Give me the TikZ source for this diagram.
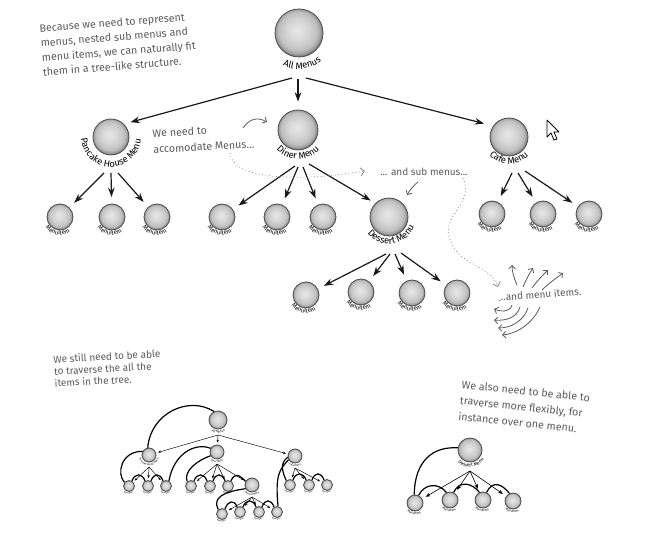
\documentclass[tikz,border=0pt]{standalone}
\usepackage{fontspec}
\setmainfont{Fira Sans}
\usetikzlibrary{arrows.meta,decorations.text,calc}
\definecolor{notegray}{HTML}{5A5A5A}
\definecolor{dotgray}{HTML}{8A8A8A}
\pgfdeclareradialshading{ballshade}{\pgfpoint{-2bp}{3bp}}{color(0bp)=(black!9); color(12bp)=(black!17); color(20bp)=(black!25); color(23.5bp)=(black!38); color(25bp)=(black!50); color(50bp)=(black!50)}
\tikzset{
 ballnode/.style={circle, inner sep=0pt, draw=black!70, line width=0.6pt, shading=ballshade},
 arr/.style={-{Stealth[length=7pt,width=5pt]}, line width=0.9pt, black!90},
 kidarr/.style={arr, shorten >=5pt},
 thinarr/.style={-{Stealth[length=2.2pt,width=1.8pt]}, line width=0.35pt, shorten >=1.5pt},
 thinarrB/.style={-{Stealth[length=3.5pt,width=2.8pt]}, line width=0.45pt, shorten >=3pt},
 trav/.style={line width=0.9pt, black},
 note/.style={text=notegray, align=left, inner sep=0pt, anchor=north west},
 hand/.style={draw=notegray, line width=0.6pt, -{Straight Barb[length=2.5pt,width=5pt]}},
 dots/.style={draw=dotgray, line width=0.6pt, dotted, -{Straight Barb[length=3pt,width=6pt]}},
}
\newcommand\ball[4]{\node[ballnode, minimum size={#4*1.5pt}] (#1) at (#2,#3) {};}
\newcommand\arclabel[6]{\path[decorate,decoration={text along path,text align=center,text={|\fontsize{#5}{#5}\selectfont|#6}}] (#1,#2) ++({#4+120}:#3) arc[start angle={#4+120},end angle={#4-120},radius=#3];}
\begin{document}
\begin{tikzpicture}[x=0.75pt,y=-0.75pt]
\useasboundingbox (0,0) rectangle (648,534);
% ---------------- main tree ----------------
\ball{all}{299}{33}{24}
\ball{pan}{111}{137}{18}
\ball{din}{298}{130}{20}
\ball{caf}{509}{137}{19}
\ball{des}{389}{217}{19}
\ball{pa}{60}{217}{13}
\ball{pb}{112}{217}{13}
\ball{pc}{157}{217}{13}
\ball{da}{222}{217}{13}
\ball{db}{277}{217}{13}
\ball{dc}{323}{217}{13}
\ball{ca}{492}{214}{13}
\ball{cb}{543}{214}{13}
\ball{cc}{589}{214}{13}
\ball{ea}{306}{295}{13}
\ball{eb}{361}{292}{13}
\ball{ec}{412}{293}{13}
\ball{ed}{457}{293}{13}
\arclabel{299}{33}{36}{84}{7}{All Menus}
\arclabel{111}{137}{30}{91}{7}{Pancake House Menu}
\arclabel{298}{130}{29}{90}{7}{Diner Menu}
\arclabel{509}{137}{27}{90}{7}{Cafe Menu}
\arclabel{389}{217}{27}{82}{7}{Dessert Menu}
\foreach \x/\y in {60/217,112/217,157/217,222/217,277/217,323/217,492/214,543/214,589/214,306/295,361/292,412/293,457/293}{
  \arclabel{\x}{\y}{18}{100}{4.5}{MenuItem}}
\coordinate (allL1) at (292,78); \coordinate (allL2) at (298,79); \coordinate (allL3) at (306,78);
\coordinate (panL1) at (104,173); \coordinate (panL2) at (111,173); \coordinate (panL3) at (118,173);
\coordinate (dinL1) at (295,166); \coordinate (dinL2) at (298,167); \coordinate (dinL3) at (303,167); \coordinate (dinL4) at (309,164);
\coordinate (cafL1) at (512,173); \coordinate (cafL2) at (518,173); \coordinate (cafL3) at (525,171);
\coordinate (desL1) at (386,254); \coordinate (desL2) at (390,254); \coordinate (desL3) at (395,254); \coordinate (desL4) at (401,253);
\draw[arr, shorten >=5pt] (allL1) -- (pan.45);
\draw[arr, shorten >=6pt] (allL2) -- (din);
\draw[arr, shorten >=7pt] (allL3) -- (caf.145);
\draw[kidarr] (panL1) -- (pa); \draw[kidarr] (panL2) -- (pb); \draw[kidarr] (panL3) -- (pc);
\draw[kidarr] (dinL1) -- (da); \draw[kidarr] (dinL2) -- (db); \draw[kidarr] (dinL3) -- (dc);
\draw[arr, shorten >=4pt] (dinL4) -- (des.135);
\draw[kidarr] (cafL1) -- (ca); \draw[kidarr] (cafL2) -- (cb); \draw[kidarr] (cafL3) -- (cc);
\draw[kidarr] (desL1) -- (ea); \draw[kidarr] (desL2) -- (eb); \draw[kidarr] (desL3) -- (ec); \draw[kidarr] (desL4) -- (ed);
% cursor
\filldraw[fill=white, draw=black, line width=0.6pt, line join=round] (547,120) -- (547,137) -- (551,133) -- (554,140) -- (557,139) -- (554,132) -- (559,132) -- cycle;
% ---------------- annotations ----------------
\node[note, rotate=4.5, font=\fontsize{8}{11}\selectfont] (n1) at (39,24) {Because we need to represent\\menus, nested sub menus and\\menu items, we can naturally fit\\them in a tree-like structure.};
\node[note, rotate=3, font=\fontsize{8}{12}\selectfont] (n2) at (152,129) {We need to\\accomodate Menus...};
\node[note, font=\fontsize{7.5}{9}\selectfont] (n3) at (380,168) {... and sub menus...};
\node[note, rotate=4, font=\fontsize{7.5}{9}\selectfont] (n4) at (498,293) {...and menu items.};
\node[note, rotate=3, font=\fontsize{7.5}{9}\selectfont] (n5) at (53,355) {We still need to be able\\to traverse the all the\\items in the tree.};
\node[note, rotate=-6, font=\fontsize{8}{12}\selectfont] (n6) at (462,380) {We also need to be able to\\traverse more flexibly, for\\instance over one menu.};
\coordinate (h1a) at (243,128); \coordinate (h1b) at (267,122);
\draw[hand] (h1a) .. controls (250,118) and (258,117) .. (h1b);
\coordinate (h2a) at (418,182); \coordinate (h2b) at (407,195);
\draw[hand] (h2a) .. controls (413,186) and (410,190) .. (h2b);
\coordinate (dA) at (230,153); \coordinate (dB) at (365,171);
\draw[dots] (dA) .. controls (232,180) and (300,182) .. (dB);
\coordinate (dC) at (463,178); \coordinate (dD) at (450,240); \coordinate (dE) at (498,287);
\draw[dots] (dC) .. controls (475,205) and (440,215) .. (dD) .. controls (458,265) and (490,265) .. (dE);
\coordinate (u1a) at (517,285); \coordinate (u1b) at (512,265);
\coordinate (u2a) at (523,287); \coordinate (u2b) at (533,268);
\coordinate (u3a) at (532,288); \coordinate (u3b) at (548,270);
\coordinate (u4a) at (542,290); \coordinate (u4b) at (563,273);
\draw[hand] (u1a) .. controls (514,278) and (512,272) .. (u1b);
\draw[hand] (u2a) .. controls (526,280) and (529,274) .. (u2b);
\draw[hand] (u3a) .. controls (537,281) and (542,276) .. (u3b);
\draw[hand] (u4a) .. controls (548,284) and (555,279) .. (u4b);
\coordinate (l1a) at (512,305); \coordinate (l1b) at (494,309);
\coordinate (l2a) at (520,307); \coordinate (l2b) at (494,320);
\coordinate (l3a) at (528,308); \coordinate (l3b) at (498,328);
\coordinate (l4a) at (540,307); \coordinate (l4b) at (502,335);
\draw[hand] (l1a) .. controls (510,312) and (502,312) .. (l1b);
\draw[hand] (l2a) .. controls (517,318) and (505,321) .. (l2b);
\draw[hand] (l3a) .. controls (523,322) and (510,328) .. (l3b);
\draw[hand] (l4a) .. controls (532,325) and (515,334) .. (l4b);
% ---------------- lower left tree ----------------
\ball{r1}{218}{420}{9}
\ball{p1}{149}{455}{7}
\ball{d1}{217}{452}{7}
\ball{c1}{295}{456}{7}
\ball{qa}{129}{486}{5.5}
\ball{qb}{148}{486}{5.5}
\ball{qc}{166}{486}{5.5}
\ball{ga}{191}{486}{5.5}
\ball{gb}{210}{486}{5.5}
\ball{gc}{228}{486}{5.5}
\ball{dd}{252}{485}{7}
\ball{ka}{222}{514}{5.5}
\ball{kb}{240}{512}{5.5}
\ball{kc}{259}{512}{5.5}
\ball{kd}{277}{512}{5.5}
\ball{wa}{290}{485}{5.5}
\ball{wb}{309}{485}{5.5}
\ball{wc}{327}{485}{5.5}
\arclabel{218}{420}{13}{88}{2.4}{All Menus}
\arclabel{149}{455}{10.5}{90}{2}{Pancake House Menu}
\arclabel{217}{452}{10.5}{90}{2}{Diner Menu}
\arclabel{295}{456}{10.5}{90}{2}{Cafe Menu}
\arclabel{252}{485}{10.5}{90}{2}{Dessert Menu}
\foreach \x/\y in {129/486,148/486,166/486,191/486,210/486,228/486,222/514,240/512,259/512,277/512,290/485,309/485,327/485}{
  \arclabel{\x}{\y}{8}{95}{1.6}{MenuItem}}
\coordinate (r1L) at (218,435); \coordinate (p1L) at (149,467); \coordinate (d1L) at (217,464);
\coordinate (ddL) at (252,497); \coordinate (c1L) at (295,468);
\draw[thinarr] (r1L) -- (p1); \draw[thinarr] (r1L) -- (d1); \draw[thinarr] (r1L) -- (c1);
\foreach \k in {qa,qb,qc}{\draw[thinarr] (p1L) -- (\k);}
\foreach \k in {ga,gb,gc,dd}{\draw[thinarr] (d1L) -- (\k);}
\foreach \k in {ka,kb,kc,kd}{\draw[thinarr] (ddL) -- (\k);}
\foreach \k in {wa,wb,wc}{\draw[thinarr] (c1L) -- (\k);}
\draw[trav] (r1.115) .. controls +(-25,-16) and +(3,-35) .. (p1.100);
\draw[trav] (p1.150) .. controls +(-22,0) and +(-8,-8) .. (qa.140);
\draw[trav] (qa.60) .. controls +(3,-8) and +(-3,-8) .. (qb.120);
\draw[trav] (qb.60) .. controls +(3,-8) and +(-3,-8) .. (qc.120);
\draw[trav] (qc.60) .. controls +(5,-28) and +(-15,-6) .. (d1.150);
\draw[trav] (d1.210) .. controls +(-14,5) and +(-4,-10) .. (ga.130);
\draw[trav] (ga.60) .. controls +(3,-8) and +(-3,-8) .. (gb.120);
\draw[trav] (gb.60) .. controls +(3,-8) and +(-3,-8) .. (gc.120);
\draw[trav] (gc.60) .. controls +(4,-9) and +(-6,-6) .. (dd.150);
\draw[trav] (dd.210) .. controls +(-22,3) and +(-6,-12) .. (ka.130);
\draw[trav] (ka.60) .. controls +(3,-8) and +(-3,-8) .. (kb.120);
\draw[trav] (kb.60) .. controls +(3,-8) and +(-3,-8) .. (kc.120);
\draw[trav] (kc.60) .. controls +(3,-8) and +(-3,-8) .. (kd.120);
\draw[trav] (kd.80) .. controls +(-3,-32) and +(-9,10) .. (c1.210);
\draw[trav] (c1.190) .. controls +(-8,6) and +(-4,-9) .. (wa.130);
\draw[trav] (wa.60) .. controls +(3,-8) and +(-3,-8) .. (wb.120);
\draw[trav] (wb.60) .. controls +(3,-8) and +(-3,-8) .. (wc.120);
% ---------------- lower right tree ----------------
\ball{r2}{470}{450}{12}
\ball{m1}{415}{503}{8}
\ball{m2}{450}{500}{8}
\ball{m3}{483}{500}{8}
\ball{m4}{513}{501}{8}
\arclabel{470}{450}{17}{85}{3.6}{Dessert Menu}
\foreach \x/\y in {415/503,450/500,483/500,513/501}{\arclabel{\x}{\y}{11.5}{95}{2.4}{MenuItem}}
\coordinate (r2L) at (470,471);
\foreach \k in {m1,m2,m3,m4}{\draw[thinarrB] (r2L) -- (\k);}
\draw[trav] (r2.170) .. controls +(-32,-2) and +(0,-25) .. (m1.95);
\draw[trav] (m1.65) .. controls +(6,-12) and +(-8,-10) .. (m2.115);
\draw[trav] (m2.65) .. controls +(6,-12) and +(-8,-10) .. (m3.115);
\draw[trav] (m3.65) .. controls +(6,-12) and +(-8,-10) .. (m4.115);
\end{tikzpicture}
\end{document}
